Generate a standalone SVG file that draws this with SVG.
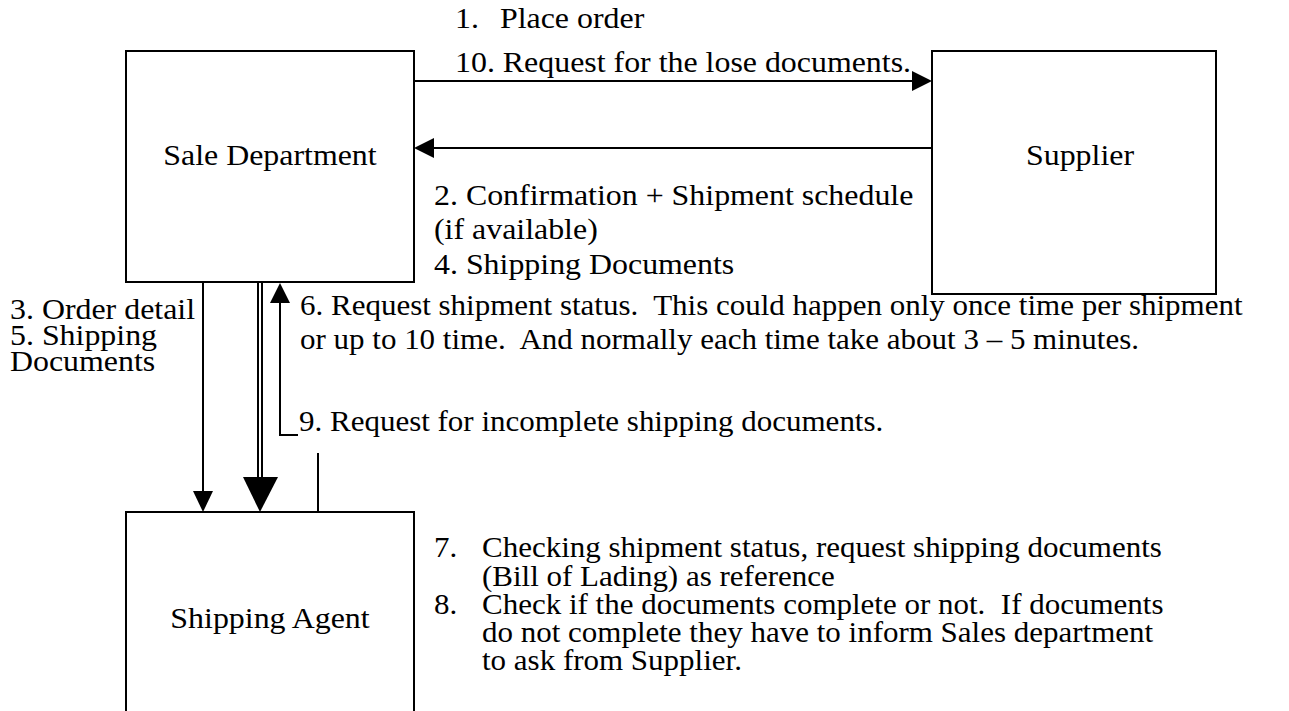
<svg xmlns="http://www.w3.org/2000/svg" width="1289" height="711" viewBox="0 0 1289 711">
  <style>
    .box { fill: #ffffff; stroke: #000000; stroke-width: 2; }
    .ln { fill: none; stroke: #000000; stroke-width: 2; }
    .head { fill: #000000; stroke: none; }
    text { font-family: "Liberation Serif", "Times New Roman", serif; font-size: 29px; fill: #000000; white-space: pre; }
    .mid { text-anchor: middle; }
  </style>
  <rect width="1289" height="711" fill="#ffffff"/>

  <!-- nodes -->
  <g id="sale-department">
    <rect class="box" x="126" y="51" width="288" height="231"/>
    <text class="mid" transform="translate(270 165) scale(1.1 1)">Sale Department</text>
  </g>
  <g id="supplier">
    <rect class="box" x="932" y="51" width="284" height="243"/>
    <text class="mid" transform="translate(1080 165) scale(1.1 1)">Supplier</text>
  </g>
  <g id="shipping-agent">
    <rect class="box" x="126" y="512" width="288" height="230"/>
    <text class="mid" transform="translate(270 628) scale(1.1 1)">Shipping Agent</text>
  </g>

  <!-- connectors -->
  <g id="connectors">
    <!-- 1 / 10: sale -> supplier -->
    <line class="ln" x1="414" y1="81" x2="914" y2="81"/>
    <polygon class="head" points="912,71 932,81 912,91"/>
    <!-- 2 / 4: supplier -> sale -->
    <line class="ln" x1="932" y1="148" x2="432" y2="148"/>
    <polygon class="head" points="434,138 414,148 434,158"/>
    <!-- 3 / 5: sale -> shipping agent -->
    <line class="ln" x1="203" y1="282" x2="203" y2="493"/>
    <polygon class="head" points="193,491 203,512 213,491"/>
    <!-- double line with large head -->
    <line class="ln" x1="258" y1="282" x2="258" y2="479"/>
    <line class="ln" x1="262" y1="282" x2="262" y2="479"/>
    <polygon class="head" points="243,477 260,512 278,477"/>
    <!-- 6 / 9: back up to sale department -->
    <polyline class="ln" points="298,435 280,435 280,300"/>
    <polygon class="head" points="270,303 280,283 290,303"/>
    <!-- tick from label 9 to shipping agent -->
    <line class="ln" x1="318" y1="453" x2="318" y2="512"/>
  </g>

  <!-- labels -->
  <g id="labels">
    <text transform="translate(455 28) scale(1.1 1)"><tspan x="0">1.</tspan><tspan x="40.9">Place order</tspan></text>
    <text transform="translate(455 72) scale(1.1 1)">10. Request for the lose documents.</text>

    <text transform="translate(434 205) scale(1.1 1)">2. Confirmation + Shipment schedule</text>
    <text transform="translate(434 239) scale(1.1 1)">(if available)</text>
    <text transform="translate(434 274) scale(1.1 1)">4. Shipping Documents</text>

    <text transform="translate(10 319) scale(1.1 1)">3. Order detail</text>
    <text transform="translate(10 345) scale(1.1 1)">5. Shipping</text>
    <text transform="translate(10 371) scale(1.1 1)">Documents</text>

    <text transform="translate(300 315) scale(1.069 1)">6. Request shipment status.  This could happen only once time per shipment</text>
    <text transform="translate(300 349) scale(1.069 1)">or up to 10 time.  And normally each time take about 3 – 5 minutes.</text>

    <text transform="translate(299 431) scale(1.069 1)">9. Request for incomplete shipping documents.</text>

    <text transform="translate(434 557) scale(1.069 1)"><tspan x="0">7.</tspan><tspan x="44.9">Checking shipment status, request shipping documents</tspan></text>
    <text transform="translate(482 586) scale(1.069 1)">(Bill of Lading) as reference</text>
    <text transform="translate(434 614) scale(1.069 1)"><tspan x="0">8.</tspan><tspan x="44.9">Check if the documents complete or not.  If documents</tspan></text>
    <text transform="translate(482 642) scale(1.069 1)">do not complete they have to inform Sales department</text>
    <text transform="translate(482 670) scale(1.069 1)">to ask from Supplier.</text>
  </g>
</svg>
